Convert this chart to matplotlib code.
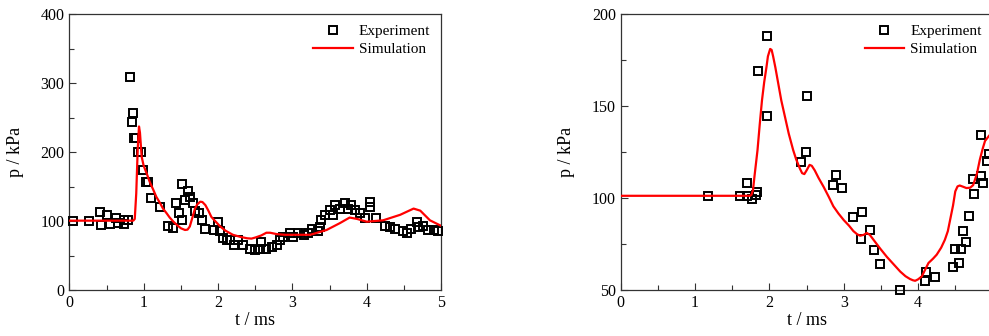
import matplotlib
matplotlib.use("Agg")
import matplotlib.pyplot as plt
from matplotlib.ticker import MultipleLocator, FixedFormatter, FixedLocator
import numpy as np

plt.rcParams['font.family'] = ['Liberation Serif', 'DejaVu Serif']

# ---------------- Left panel data ----------------
sim1_t = [0.0, 0.86, 0.88, 0.90, 0.92, 0.937, 0.95, 0.973, 1.0, 1.04, 1.08, 1.13, 1.17, 1.22,
          1.26, 1.31, 1.35, 1.40, 1.45, 1.50, 1.556, 1.59, 1.62, 1.65, 1.69, 1.72, 1.76, 1.79,
          1.83, 1.87, 1.91, 1.96, 2.03, 2.1, 2.2, 2.3, 2.39, 2.45, 2.5, 2.58, 2.65, 2.7, 2.79,
          2.9, 3.01, 3.24, 3.46, 3.64, 3.77, 3.87, 4.0, 4.22, 4.45, 4.63, 4.72, 4.85, 5.0]
sim1_p = [100.5, 100.5, 103, 140, 205, 237, 228, 193, 180, 169, 157, 145, 135, 126,
          118, 111, 105, 99, 94, 89.5, 87, 87.5, 92, 103, 118, 124, 128, 127.5,
          123, 115, 106, 100, 92, 86, 80, 77, 75, 74.5, 76, 79, 83, 83, 81,
          80, 80, 80, 87, 97, 105, 103, 99, 101, 109, 118, 115, 101, 93]

exp1_t = [0.05, 0.26, 0.41, 0.43, 0.50, 0.55, 0.63, 0.66, 0.73, 0.74, 0.79, 0.82, 0.85, 0.84,
          0.87, 0.90, 0.92, 0.97, 0.99, 1.03, 1.06, 1.10, 1.22, 1.33, 1.39, 1.43, 1.48, 1.52,
          1.52, 1.55, 1.60, 1.62, 1.66, 1.69, 1.74, 1.78, 1.82, 1.94, 2.00, 2.03, 2.07, 2.12,
          2.16, 2.21, 2.27, 2.34, 2.43, 2.50, 2.56, 2.58, 2.65, 2.72, 2.79, 2.83, 2.88, 2.97,
          3.01, 3.08, 3.15, 3.21, 3.26, 3.35, 3.37, 3.39, 3.44, 3.51, 3.55, 3.57, 3.64, 3.71,
          3.75, 3.79, 3.84, 3.91, 3.98, 4.04, 4.04, 4.13, 4.25, 4.31, 4.38, 4.49, 4.54, 4.60,
          4.67, 4.69, 4.76, 4.83, 4.90, 4.96]
exp1_p = [100, 100, 113, 94, 108, 96, 104, 97, 102, 95, 101, 308, 257, 243,
          221, 221, 200, 200, 174, 156, 156, 133, 121, 93, 90, 126, 111, 101,
          153, 130, 143, 135, 126, 114, 111, 101, 89, 87, 98, 85, 75, 72,
          73, 65, 72, 65, 60, 58, 60, 70, 60, 63, 65, 72, 77, 82,
          77, 82, 80, 82, 88, 85, 92, 101, 109, 116, 109, 123, 118, 126,
          118, 123, 116, 111, 104, 128, 121, 104, 93, 92, 89, 85, 82, 89,
          99, 92, 93, 87, 87, 85]

# ---------------- Right panel data ----------------
sim2_t = [0.0, 1.74, 1.76, 1.78, 1.80, 1.84, 1.87, 1.90, 1.93, 1.96, 1.98, 2.01, 2.03, 2.05,
          2.08, 2.12, 2.16, 2.21, 2.26, 2.32, 2.36, 2.41, 2.44, 2.47, 2.50, 2.54, 2.57, 2.61,
          2.66, 2.73, 2.8, 2.86, 2.93, 3.0, 3.07, 3.13, 3.18, 3.22, 3.27, 3.31, 3.35, 3.4,
          3.49, 3.58, 3.67, 3.76, 3.83, 3.89, 3.93, 3.96, 4.0, 4.05, 4.10, 4.14, 4.2, 4.25,
          4.31, 4.36, 4.40, 4.43, 4.47, 4.5, 4.53, 4.56, 4.6, 4.65, 4.7, 4.74, 4.79, 4.83,
          4.87, 4.9, 4.95, 5.0]
sim2_p = [101.2, 101.2, 101.8, 104.5, 112, 126, 140, 153, 163, 171, 177, 181, 180.5, 177,
          171, 162, 153, 144, 135, 126, 121, 116, 113.5, 113, 115, 118, 117.5, 115,
          111, 106, 100.5, 95.5, 91.5, 88, 85, 82, 80.3, 79.5, 80, 81, 80, 77.3,
          72.5, 68, 64, 60, 57.5, 56, 55.3, 55, 55.8, 57.4, 61.5, 64.7, 67, 69.2,
          73, 77.3, 82, 88, 96, 103.6, 106.3, 106.8, 106.2, 105.4, 105.6, 107, 113, 120.8,
          127, 131, 133.6, 136]

exp2_t = [1.17, 1.61, 1.695, 1.70, 1.77, 1.82, 1.83, 1.85, 1.97, 1.97, 2.43, 2.49, 2.51, 2.85,
          2.89, 2.98, 3.12, 3.25, 3.23, 3.35, 3.41, 3.49, 3.75, 4.09, 4.11, 4.23, 4.47, 4.50,
          4.55, 4.58, 4.60, 4.65, 4.69, 4.75, 4.74, 4.84, 4.87, 4.85, 4.93, 4.95]
exp2_p = [101.2, 101.2, 101, 108.4, 99.6, 101.6, 103.2, 169, 188, 144.5, 119.5, 125, 155.5, 106.8,
          112.6, 105.2, 89.8, 92.5, 77.7, 82.8, 71.9, 64.1, 50, 55, 59.6, 56.9, 62.3, 72.3,
          64.9, 72.3, 82, 75.9, 90, 102.3, 110.3, 111.7, 107.9, 134.3, 120.2, 124]

x_ticks = [0, 1, 2, 3, 4, 5]
x_labels_left = ['0', '1', '2', '3', '4', '5']
x_labels_right = ['0', '1', '2', '3', '4', '']

fig = plt.figure(figsize=(9.89, 3.36), dpi=100)
ax1 = fig.add_axes([0.0701, 0.1369, 0.3759, 0.8214])
ax2 = fig.add_axes([0.6276, 0.1369, 0.3759, 0.8214])

panels = [
    (ax1, exp1_t, exp1_p, sim1_t, sim1_p, (0, 400), 100, 50, x_labels_left),
    (ax2, exp2_t, exp2_p, sim2_t, sim2_p, (50, 200), 50, 25, x_labels_right),
]

for ax, et, ep, st, sp, ylim, ymaj, ymin, xl in panels:
    ax.plot(et, ep, linestyle='none', marker='s', markersize=5.2, markerfacecolor='none',
            markeredgecolor='black', markeredgewidth=1.4, label='Experiment', zorder=3,
            clip_on=False)
    ax.plot(st, sp, color='#ff0000', linewidth=1.6, label='Simulation', zorder=4)
    ax.set_xlim(0, 5)
    ax.set_ylim(*ylim)
    ax.xaxis.set_major_locator(FixedLocator(x_ticks))
    ax.xaxis.set_major_formatter(FixedFormatter(xl))
    ax.xaxis.set_minor_locator(MultipleLocator(0.5))
    ax.yaxis.set_major_locator(MultipleLocator(ymaj))
    ax.yaxis.set_minor_locator(MultipleLocator(ymin))
    ax.tick_params(which='both', direction='in', top=False, right=False,
                   labelsize=11.5, width=0.8, colors='#333333', labelcolor='black')
    ax.tick_params(which='major', length=5)
    ax.tick_params(which='minor', length=3.5)
    for s in ax.spines.values():
        s.set_color('#333333')
        s.set_linewidth(0.9)
    ax.set_xlabel('t / ms', fontsize=13, labelpad=1)
    ax.set_ylabel('p / kPa', fontsize=13, labelpad=12)
    ax.legend(loc='upper right', frameon=False, fontsize=11, handlelength=2.6,
              handletextpad=0.4, labelspacing=0.25, borderaxespad=0.3)

fig.savefig('out.png', dpi=100)
